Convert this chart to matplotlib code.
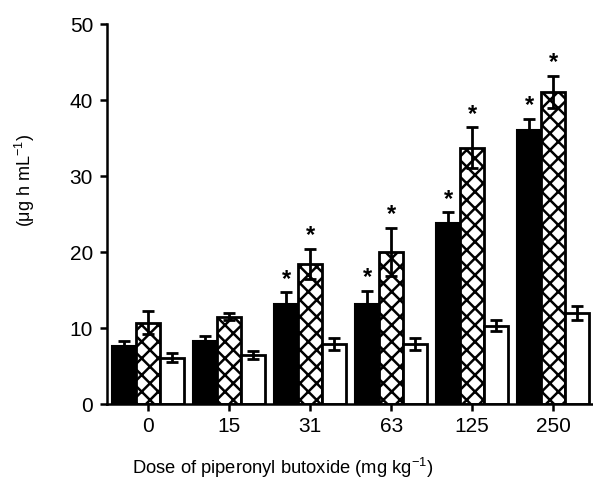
import matplotlib
matplotlib.use("Agg")
import matplotlib.pyplot as plt
import numpy as np

plt.rcParams['font.family'] = ['Liberation Sans', 'DejaVu Sans']
plt.rcParams['mathtext.fontset'] = 'custom'
plt.rcParams['mathtext.rm'] = 'Liberation Sans'
plt.rcParams['mathtext.default'] = 'regular'
plt.rcParams['hatch.linewidth'] = 1.8

doses = ["0", "15", "31", "63", "125", "250"]
black_mean = [7.6, 8.3, 13.1, 13.1, 23.8, 36.0]
black_err = [0.7, 0.6, 1.6, 1.8, 1.4, 1.5]
hatch_mean = [10.7, 11.5, 18.4, 20.0, 33.7, 41.1]
hatch_err = [1.5, 0.5, 2.0, 3.2, 2.7, 2.1]
white_mean = [6.1, 6.45, 7.85, 7.85, 10.3, 12.0]
white_err = [0.6, 0.5, 0.8, 0.8, 0.7, 0.9]
black_sig = [False, False, True, True, True, True]
hatch_sig = [False, False, True, True, True, True]

x = np.arange(len(doses))
w = 0.295

fig = plt.figure(figsize=(5.93, 4.8), dpi=100)
ax = fig.add_axes([107/593, 1 - 404/480, (592-107)/593, (404-24)/480])

ekw = dict(elinewidth=2, capthick=2, capsize=4, ecolor='black')
ax.bar(x - w, black_mean, w, color='black', edgecolor='black', linewidth=1.5,
       yerr=black_err, error_kw=ekw)
ax.bar(x, hatch_mean, w, color='white', edgecolor='black', linewidth=2,
       hatch='xx', yerr=hatch_err, error_kw=ekw)
ax.bar(x + w, white_mean, w, color='white', edgecolor='black', linewidth=2,
       yerr=white_err, error_kw=ekw)

for i in range(len(doses)):
    if black_sig[i]:
        ax.text(x[i] - w, black_mean[i] + black_err[i] + 0.2, "*", ha='center',
                va='bottom', fontsize=17, fontweight='bold')
    if hatch_sig[i]:
        ax.text(x[i], hatch_mean[i] + hatch_err[i] + 0.2, "*", ha='center',
                va='bottom', fontsize=17, fontweight='bold')

ax.set_xlim(-0.51, 5.48)
ax.set_ylim(0, 50)
ax.set_yticks([0, 10, 20, 30, 40, 50])
ax.set_xticks(x)
ax.set_xticklabels(doses)
ax.tick_params(axis='both', labelsize=15, width=1.8, length=5, pad=5)
ax.tick_params(axis='x', pad=4)
for s in ['top', 'right']:
    ax.spines[s].set_visible(False)
for s in ['left', 'bottom']:
    ax.spines[s].set_linewidth(1.8)

fig.text(25/593, 1 - 180/480, "(μg h mL$^{-1}$)", rotation=90, fontsize=13,
         ha='center', va='center')
fig.text(283/593, 1 - 468/480, "Dose of piperonyl butoxide (mg kg$^{-1}$)",
         fontsize=13.2, ha='center', va='center')

fig.savefig("out.png", dpi=100)
